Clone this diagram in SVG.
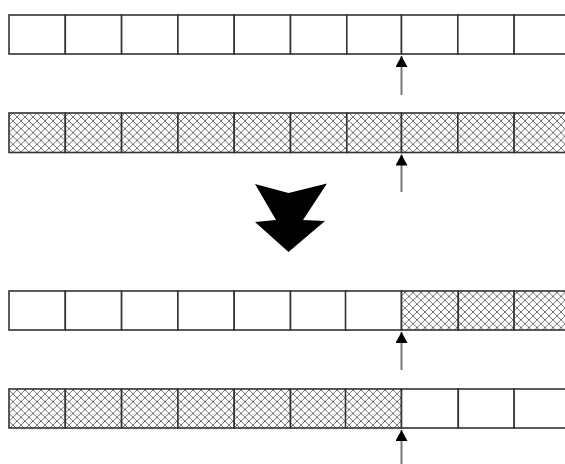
<svg xmlns="http://www.w3.org/2000/svg" width="565" height="464" viewBox="0 0 565 464">
<defs>
<pattern id="hatch" patternUnits="userSpaceOnUse" width="8" height="7.8" x="9" y="0">
<rect width="8" height="7.8" fill="#ffffff"/>
<path d="M0,0 L8,7.8 M8,0 L0,7.8 M-1,6.83 L1,8.78 M7,-0.98 L9,0.98 M9,6.83 L7,8.78 M1,-0.98 L-1,0.98" stroke="#5a5a5a" stroke-width="0.85" fill="none"/>
</pattern>
<marker id="ah" viewBox="0 0 11 12" refX="11" refY="6" markerWidth="11" markerHeight="12" markerUnits="userSpaceOnUse" orient="auto">
<path d="M0,0 L11,6 L0,12 Z" fill="#000"/>
</marker>
</defs>
<style>
.w{fill:#ffffff;}
.h{fill:url(#hatch);}
.c{stroke:#333;stroke-width:1.6;}
.ptr{stroke:#777;stroke-width:2;fill:none;}
</style>
<rect width="565" height="464" fill="#ffffff"/>
<g id="row1">
<rect class="w c" x="9" y="15" width="56.3" height="39"/>
<rect class="w c" x="65.3" y="15" width="56.3" height="39"/>
<rect class="w c" x="121.6" y="15" width="56.3" height="39"/>
<rect class="w c" x="177.9" y="15" width="56.3" height="39"/>
<rect class="w c" x="234.2" y="15" width="56.3" height="39"/>
<rect class="w c" x="290.5" y="15" width="56.3" height="39"/>
<rect class="w c" x="346.8" y="15" width="54.7" height="39"/>
<rect class="w c" x="401.5" y="15" width="56.3" height="39"/>
<rect class="w c" x="457.8" y="15" width="56.3" height="39"/>
<rect class="w c" x="514.1" y="15" width="60" height="39"/>
</g>
<g id="row2">
<rect class="h c" x="9" y="113" width="56.3" height="39.5"/>
<rect class="h c" x="65.3" y="113" width="56.3" height="39.5"/>
<rect class="h c" x="121.6" y="113" width="56.3" height="39.5"/>
<rect class="h c" x="177.9" y="113" width="56.3" height="39.5"/>
<rect class="h c" x="234.2" y="113" width="56.3" height="39.5"/>
<rect class="h c" x="290.5" y="113" width="56.3" height="39.5"/>
<rect class="h c" x="346.8" y="113" width="54.7" height="39.5"/>
<rect class="h c" x="401.5" y="113" width="56.3" height="39.5"/>
<rect class="h c" x="457.8" y="113" width="56.3" height="39.5"/>
<rect class="h c" x="514.1" y="113" width="60" height="39.5"/>
</g>
<g id="row3">
<rect class="w c" x="9" y="291" width="56.3" height="39"/>
<rect class="w c" x="65.3" y="291" width="56.3" height="39"/>
<rect class="w c" x="121.6" y="291" width="56.3" height="39"/>
<rect class="w c" x="177.9" y="291" width="56.3" height="39"/>
<rect class="w c" x="234.2" y="291" width="56.3" height="39"/>
<rect class="w c" x="290.5" y="291" width="56.3" height="39"/>
<rect class="w c" x="345.5" y="291" width="56" height="39"/>
<rect class="h c" x="401.5" y="291" width="56.8" height="39"/>
<rect class="h c" x="458.3" y="291" width="55.8" height="39"/>
<rect class="h c" x="514.1" y="291" width="60" height="39"/>
</g>
<g id="row4">
<rect class="h c" x="9" y="389" width="56.3" height="39"/>
<rect class="h c" x="65.3" y="389" width="56.3" height="39"/>
<rect class="h c" x="121.6" y="389" width="56.3" height="39"/>
<rect class="h c" x="177.9" y="389" width="56.3" height="39"/>
<rect class="h c" x="234.2" y="389" width="56.3" height="39"/>
<rect class="h c" x="290.5" y="389" width="56.3" height="39"/>
<rect class="h c" x="345.5" y="389" width="56" height="39"/>
<rect class="w c" x="401.5" y="389" width="56.8" height="39"/>
<rect class="w c" x="458.3" y="389" width="55.8" height="39"/>
<rect class="w c" x="514.1" y="389" width="60" height="39"/>
</g>
<g id="bigArrow">
<path d="M255,184 L288.5,193 L327,183.5 L303,220 L325,221 L288.5,252 L255,222 L276,220 Z" fill="#000"/>
</g>
<g id="connectors">
<line class="ptr" x1="401.5" y1="95" x2="401.5" y2="56" marker-end="url(#ah)"/>
<line class="ptr" x1="401.5" y1="192" x2="401.5" y2="154.5" marker-end="url(#ah)"/>
<line class="ptr" x1="401.5" y1="370" x2="401.5" y2="332" marker-end="url(#ah)"/>
<line class="ptr" x1="401.5" y1="464" x2="401.5" y2="430" marker-end="url(#ah)"/>
</g>
</svg>
